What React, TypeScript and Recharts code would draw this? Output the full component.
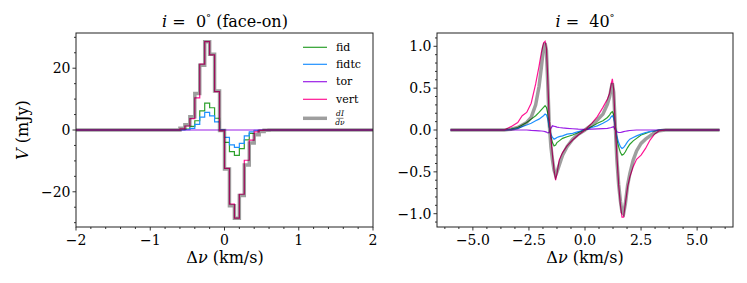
import React from 'react';
import { LineChart, Line, XAxis, YAxis, Legend } from 'recharts';

// ---------- Left panel (i = 0°, face-on): channel centres (km/s) and values (mJy)
const velLeft = [-2, -0.633, -0.567, -0.5, -0.433, -0.367, -0.3, -0.233, -0.167, -0.1, -0.033, 0.033, 0.1, 0.167, 0.233, 0.3, 0.367, 0.433, 0.5, 0.567, 0.633, 2];
const fidLeft = [0, 0, 0, 0.3, 1.2, 3.0, 6.2, 8.7, 7.2, 3.8, 0, -4.0, -7.0, -8.2, -6.0, -3.2, -1.1, -0.2, 0, 0, 0, 0];
const fidtcLeft = [0, 0, 0, 0.1, 0.5, 1.8, 4.2, 5.7, 4.6, 2.6, 0, -2.4, -4.8, -5.6, -4.3, -1.9, -0.6, -0.1, 0, 0, 0, 0];
const torLeft = [0, 0, 0, 0, 0, 0, 0, 0, 0, 0, 0, 0, 0, 0, 0, 0, 0, 0, 0, 0, 0, 0];
const vertLeft = [0, 0, 0.4, 1.3, 3.7, 10.4, 21.3, 28.6, 24.3, 12.4, -0.3, -12.4, -24, -28.5, -20.8, -9.8, -3.3, -0.6, -0.1, 0, 0, 0];
const gradLeft = [0, 0, 0.6, 1.7, 4.3, 11.8, 21.0, 28.6, 24.5, 12.6, -0.2, -12.6, -24.5, -28.6, -21.2, -11.3, -4.2, -1.5, -0.5, -0.1, 0, 0];

// ---------- Right panel (i = 40°): velocities (km/s) and values (mJy)
const velRight = [-6, -3.6, -3.3, -3.0, -2.8, -2.6, -2.4, -2.2, -2.05, -1.95, -1.85, -1.78, -1.72, -1.66, -1.6, -1.52, -1.45, -1.38, -1.31, -1.25, -1.15, -1.0, -0.8, -0.55, -0.3, 0, 0.3, 0.55, 0.8, 1.0, 1.1, 1.17, 1.22, 1.28, 1.35, 1.42, 1.5, 1.58, 1.65, 1.72, 1.8, 1.9, 2.0, 2.15, 2.3, 2.5, 2.7, 2.9, 3.1, 3.3, 3.6, 6];
const fidRight = [0, 0, 0.01, 0.03, 0.06, 0.09, 0.13, 0.17, 0.21, 0.24, 0.27, 0.29, 0.27, 0.2, 0.05, -0.08, -0.15, -0.19, -0.18, -0.15, -0.13, -0.1, -0.08, -0.06, -0.03, 0, 0.04, 0.08, 0.11, 0.15, 0.18, 0.21, 0.22, 0.18, 0.05, -0.1, -0.2, -0.27, -0.3, -0.29, -0.26, -0.21, -0.17, -0.13, -0.1, -0.06, -0.04, -0.02, -0.01, 0, 0, 0];
const fidtcRight = [0, 0, 0.005, 0.02, 0.04, 0.06, 0.08, 0.11, 0.13, 0.15, 0.17, 0.19, 0.18, 0.13, 0.04, -0.05, -0.09, -0.11, -0.1, -0.09, -0.08, -0.07, -0.05, -0.04, -0.02, 0, 0.03, 0.05, 0.08, 0.11, 0.13, 0.16, 0.17, 0.14, 0.04, -0.07, -0.15, -0.2, -0.22, -0.21, -0.18, -0.14, -0.11, -0.09, -0.07, -0.05, -0.03, -0.02, -0.01, 0, 0, 0];
const torRight = [0, 0, 0, 0, 0, 0, -0.005, -0.008, -0.01, -0.012, -0.015, -0.02, -0.025, -0.035, -0.03, 0.02, 0.05, 0.045, 0.04, 0.035, 0.03, 0.025, 0.02, 0.015, 0.01, 0.008, 0.01, 0.013, 0.017, 0.02, 0.025, 0.03, 0.035, 0.04, 0, -0.02, -0.03, -0.03, -0.025, -0.02, -0.015, -0.01, -0.006, -0.003, 0, 0, 0, 0, 0, 0, 0, 0];
const vertRight = [0, 0, 0.04, 0.09, 0.17, 0.21, 0.32, 0.55, 0.76, 0.92, 1.04, 1.06, 0.98, 0.6, 0.15, -0.1, -0.3, -0.48, -0.6, -0.52, -0.36, -0.27, -0.19, -0.12, -0.06, 0, 0.08, 0.16, 0.27, 0.37, 0.44, 0.55, 0.61, 0.48, 0.05, -0.3, -0.65, -0.9, -1.04, -1.04, -0.88, -0.68, -0.56, -0.44, -0.35, -0.3, -0.22, -0.12, -0.05, -0.01, 0, 0];
const gradRight = [0, 0, 0.01, 0.03, 0.06, 0.09, 0.15, 0.3, 0.52, 0.74, 0.98, 1.04, 0.95, 0.55, 0.1, -0.2, -0.36, -0.48, -0.54, -0.5, -0.42, -0.3, -0.2, -0.11, -0.05, 0, 0.06, 0.12, 0.19, 0.31, 0.4, 0.5, 0.56, 0.45, 0.05, -0.35, -0.65, -0.85, -0.98, -1.0, -0.88, -0.66, -0.52, -0.36, -0.25, -0.16, -0.11, -0.07, -0.03, -0.01, 0, 0];

// ---------- Ticks
const leftXMajor = [-2, -1, 0, 1, 2];
const leftXMinor = [-1.8, -1.6, -1.4, -1.2, -0.8, -0.6, -0.4, -0.2, 0.2, 0.4, 0.6, 0.8, 1.2, 1.4, 1.6, 1.8];
const leftYMajor = [-20, 0, 20];
const leftYMinor = [-30, -25, -15, -10, -5, 5, 10, 15, 25, 30];
const rightXMajor = [-5, -2.5, 0, 2.5, 5];
const rightXMinor = [-6.25, -5.625, -4.375, -3.75, -3.125, -1.875, -1.25, -0.625, 0.625, 1.25, 1.875, 3.125, 3.75, 4.375, 5.625, 6.25];
const rightYMajor = [-1, -0.5, 0, 0.5, 1];
const rightYMinor = [-1.1, -0.9, -0.8, -0.7, -0.6, -0.4, -0.3, -0.2, -0.1, 0.1, 0.2, 0.3, 0.4, 0.6, 0.7, 0.8, 0.9, 1.1];

const legendLabels = ['fid', 'fidtc', 'tor', 'vert'];

const COLORS: Record<string, string> = {
  fid: '#2ca02c',
  fidtc: '#1e90ff',
  tor: '#9a1ee6',
  vert: '#ff1493',
  grad: '#000000',
};
const GRAD_OPACITY = 0.38;

const FONT = 'DejaVu Serif';

const leftData = velLeft.map((v, i) => ({
  v, fid: fidLeft[i], fidtc: fidtcLeft[i], tor: torLeft[i], vert: vertLeft[i], grad: gradLeft[i],
}));
const rightData = velRight.map((v, i) => ({
  v, fid: fidRight[i], fidtc: fidtcRight[i], tor: torRight[i], vert: vertRight[i], grad: gradRight[i],
}));

const fmtInt = (v: number) => (v < 0 ? '\u2212' + Math.abs(v) : String(v));
const fmt1 = (v: number) => (v < 0 ? '\u2212' + Math.abs(v).toFixed(1) : v.toFixed(1));

const isIn = (arr: number[], v: number) => arr.some((m) => Math.abs(m - v) < 1e-6);

function makeXTick(majors: number[], fmt: (v: number) => string) {
  return (props: any) => {
    const { x, y, payload } = props;
    const v = payload.value;
    const major = isIn(majors, v);
    return (
      <g>
        <line x1={x} x2={x} y1={y} y2={y + (major ? 3.5 : 2)} stroke="#000" strokeWidth={0.8} />
        {major && (
          <text x={x} y={y + 17.5} textAnchor="middle" fontFamily={FONT} fontSize={14} fill="#000">
            {fmt(v)}
          </text>
        )}
      </g>
    );
  };
}

function makeYTick(majors: number[], fmt: (v: number) => string) {
  return (props: any) => {
    const { x, y, payload } = props;
    const v = payload.value;
    const major = isIn(majors, v);
    return (
      <g>
        <line x1={x} x2={x - (major ? 3.5 : 2)} y1={y} y2={y} stroke="#000" strokeWidth={0.8} />
        {major && (
          <text x={x - 5.5} y={y} dy="0.36em" textAnchor="end" fontFamily={FONT} fontSize={14} fill="#000">
            {fmt(v)}
          </text>
        )}
      </g>
    );
  };
}

const LegendBox = () => (
  <svg width={80} height={95} style={{ display: 'block', overflow: 'visible' }}>
    {legendLabels.map((name, i) => {
      const y = [10.3, 27.3, 44.7, 62.3][i];
      return (
        <g key={name}>
          <line x1={5} x2={29} y1={y} y2={y} stroke={COLORS[name]} strokeWidth={1.2} />
          <text x={38} y={y} dy="0.33em" fontFamily={FONT} fontSize={11} fill="#000">
            {name}
          </text>
        </g>
      );
    })}
    <line x1={5} x2={29} y1={81.3} y2={81.3} stroke={COLORS.grad} strokeOpacity={GRAD_OPACITY} strokeWidth={3.5} />
    <text x={42} y={79.3} textAnchor="middle" fontFamily={FONT} fontSize={7.5} fontStyle="italic" fill="#000">{'dI'}</text>
    <line x1={38.5} x2={45.5} y1={81.3} y2={81.3} stroke="#000" strokeWidth={0.5} />
    <text x={42} y={87.5} textAnchor="middle" fontFamily={FONT} fontSize={7.5} fontStyle="italic" fill="#000">{'d\u03bd'}</text>
  </svg>
);

const seriesOrder = ['fid', 'fidtc', 'tor', 'vert'];

export default function App() {
  const lineProps = { dot: false, isAnimationActive: false, activeDot: false } as any;
  const pre = { whiteSpace: 'pre' } as React.CSSProperties;
  return (
    <div style={{ position: 'absolute', left: 0, top: 0, width: 747, height: 283, background: '#fff', overflow: 'hidden' }}>
      <div style={{ position: 'absolute', left: 0, top: 0 }}>
        <LineChart width={380} height={283} data={leftData} margin={{ top: 33, right: 7, bottom: 0, left: 0 }}>
          <XAxis
            dataKey="v"
            type="number"
            domain={[-2, 2]}
            ticks={[...leftXMajor, ...leftXMinor].sort((a, b) => a - b)}
            interval={0}
            height={56}
            tickSize={0}
            tickMargin={0}
            tickLine={false}
            axisLine={false}
            tick={makeXTick(leftXMajor, fmtInt)}
            allowDataOverflow
          />
          <YAxis
            type="number"
            domain={[-31.4, 31.4]}
            ticks={[...leftYMajor, ...leftYMinor].sort((a, b) => a - b)}
            interval={0}
            width={76}
            tickSize={0}
            tickMargin={0}
            tickLine={false}
            axisLine={false}
            tick={makeYTick(leftYMajor, fmtInt)}
            allowDataOverflow
          />
          {seriesOrder.map((k) => (
            <Line key={k} dataKey={k} type="step" stroke={COLORS[k]} strokeWidth={1.2} {...lineProps} />
          ))}
          <Line dataKey="grad" type="step" stroke={COLORS.grad} strokeOpacity={GRAD_OPACITY} strokeWidth={3.5} {...lineProps} />
          <Legend
            layout="vertical"
            align="center"
            verticalAlign="middle"
            wrapperStyle={{ position: 'absolute', left: 298, top: 37, width: 80, height: 95 }}
            content={() => <LegendBox />}
          />
        </LineChart>
      </div>
      <div style={{ position: 'absolute', left: 380, top: 0 }}>
        <LineChart width={367} height={283} data={rightData} margin={{ top: 33, right: 14, bottom: 0, left: 0 }}>
          <XAxis
            dataKey="v"
            type="number"
            domain={[-6.6, 6.6]}
            ticks={[...rightXMajor, ...rightXMinor].sort((a, b) => a - b)}
            interval={0}
            height={56}
            tickSize={0}
            tickMargin={0}
            tickLine={false}
            axisLine={false}
            tick={makeXTick(rightXMajor, fmt1)}
            allowDataOverflow
          />
          <YAxis
            type="number"
            domain={[-1.159, 1.159]}
            ticks={[...rightYMajor, ...rightYMinor].sort((a, b) => a - b)}
            interval={0}
            width={57}
            tickSize={0}
            tickMargin={0}
            tickLine={false}
            axisLine={false}
            tick={makeYTick(rightYMajor, fmt1)}
            allowDataOverflow
          />
          {seriesOrder.map((k) => (
            <Line key={k} dataKey={k} type="linear" stroke={COLORS[k]} strokeWidth={1.2} {...lineProps} />
          ))}
          <Line dataKey="grad" type="linear" stroke={COLORS.grad} strokeOpacity={GRAD_OPACITY} strokeWidth={3.5} {...lineProps} />
        </LineChart>
      </div>
      <svg width={747} height={283} style={{ position: 'absolute', left: 0, top: 0, pointerEvents: 'none' }}>
        <rect x={76} y={33} width={297} height={194} fill="none" stroke="#222" strokeWidth={1} />
        <rect x={437} y={33} width={296} height={194} fill="none" stroke="#222" strokeWidth={1} />
        <text x={225} y={27} textAnchor="middle" fontFamily={FONT} fontSize={16} fill="#000" style={pre}>
          <tspan fontStyle="italic">i</tspan>
          <tspan>{' =  0'}</tspan>
          <tspan fontSize={10} dy={-6}>{'\u00b0'}</tspan>
          <tspan dy={6}>{' (face-on)'}</tspan>
        </text>
        <text x={585} y={27} textAnchor="middle" fontFamily={FONT} fontSize={16} fill="#000" style={pre}>
          <tspan fontStyle="italic">i</tspan>
          <tspan>{' =  40'}</tspan>
          <tspan fontSize={10} dy={-6}>{'\u00b0'}</tspan>
        </text>
        <text x={225} y={263} textAnchor="middle" fontFamily={FONT} fontSize={16} fill="#000" style={pre}>
          <tspan>{'\u0394'}</tspan>
          <tspan fontStyle="italic">{'\u03bd'}</tspan>
          <tspan>{' (km/s)'}</tspan>
        </text>
        <text x={585} y={263} textAnchor="middle" fontFamily={FONT} fontSize={16} fill="#000" style={pre}>
          <tspan>{'\u0394'}</tspan>
          <tspan fontStyle="italic">{'\u03bd'}</tspan>
          <tspan>{' (km/s)'}</tspan>
        </text>
        <text x={28} y={130} textAnchor="middle" transform="rotate(-90 28 130)" fontFamily={FONT} fontSize={16} fill="#000" style={pre}>
          <tspan fontStyle="italic">V</tspan>
          <tspan>{' (mJy)'}</tspan>
        </text>
      </svg>
    </div>
  );
}
